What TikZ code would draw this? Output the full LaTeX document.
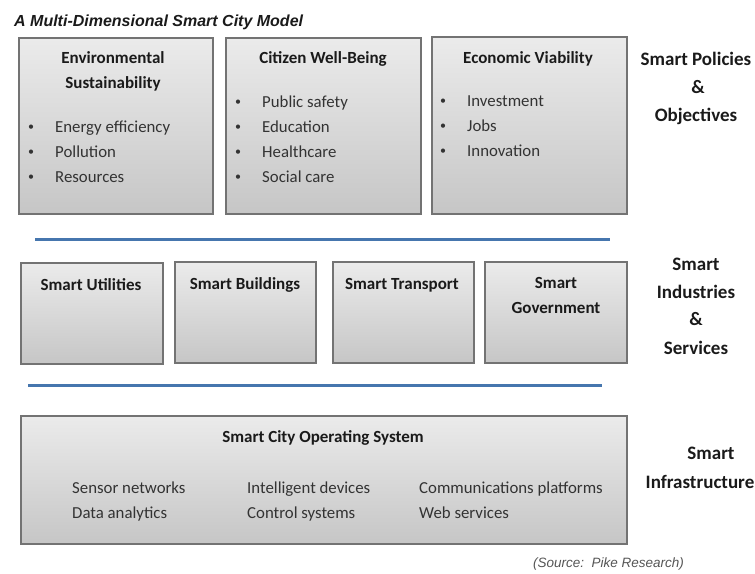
\documentclass[tikz,border=0pt]{standalone}
\usepackage{fontspec}
\setmainfont{Carlito}
\newfontfamily\arialfont{Liberation Sans}
\definecolor{boxborder}{HTML}{737373}
\definecolor{boxtop}{HTML}{EBEBEB}
\definecolor{boxbot}{HTML}{C6C6C6}
\definecolor{bodytext}{HTML}{333333}
\definecolor{headtext}{HTML}{1A1A1A}
\definecolor{rulecol}{HTML}{4676AE}
\definecolor{srccol}{HTML}{555555}
\begin{document}
\begin{tikzpicture}[x=1bp,y=-1bp,
  box/.style={draw=boxborder, line width=1.6bp, top color=boxtop, bottom color=boxbot,
    anchor=north west, inner sep=0pt},
  head/.style={anchor=base, inner sep=0pt, text=headtext, font=\fontsize{17bp}{20bp}\selectfont\bfseries},
  side/.style={anchor=base, inner sep=0pt, text=headtext, font=\fontsize{19bp}{22bp}\selectfont\bfseries},
  item/.style={anchor=base west, inner sep=0pt, text=bodytext, font=\fontsize{16.8bp}{20bp}\selectfont},
  dot/.style={anchor=base, inner sep=0pt, text=bodytext, font=\fontsize{12bp}{20bp}\selectfont},
  sep/.style={draw=rulecol, line width=3bp}]
\useasboundingbox (0,0) rectangle (755,574);
% title
\node[anchor=base west, inner sep=0pt, text=headtext, font=\arialfont\fontsize{16bp}{18bp}\selectfont\bfseries\itshape] (title) at (14,27) {A Multi-Dimensional Smart City Model};
% top row boxes
\node[box, minimum width=194bp, minimum height=176bp] (env) at (18,37) {};
\node[box, minimum width=195bp, minimum height=176bp] (cit) at (225,37) {};
\node[box, minimum width=195bp, minimum height=177bp] (eco) at (431,36) {};
% env
\node[head] (envt1) at (113,64) {Environmental};
\node[head] (envt2) at (113,89) {Sustainability};
\node[dot] (envb1) at (31,131) {\textbullet};
\node[dot] (envb2) at (31,156) {\textbullet};
\node[dot] (envb3) at (31,181) {\textbullet};
\node[item] (envi1) at (55,133) {Energy efficiency};
\node[item] (envi2) at (55,158) {Pollution};
\node[item] (envi3) at (55,183) {Resources};
% citizen
\node[head] (citt) at (323,64) {Citizen Well-Being};
\node[dot] (citb1) at (238,106) {\textbullet};
\node[dot] (citb2) at (238,131) {\textbullet};
\node[dot] (citb3) at (238,156) {\textbullet};
\node[dot] (citb4) at (238,181) {\textbullet};
\node[item] (citi1) at (262,108) {Public safety};
\node[item] (citi2) at (262,133) {Education};
\node[item] (citi3) at (262,158) {Healthcare};
\node[item] (citi4) at (262,183) {Social care};
% economic
\node[head] (ecot) at (528,64) {Economic Viability};
\node[dot] (ecob1) at (443,105) {\textbullet};
\node[dot] (ecob2) at (443,130) {\textbullet};
\node[dot] (ecob3) at (443,155) {\textbullet};
\node[item] (ecoi1) at (467,107) {Investment};
\node[item] (ecoi2) at (467,132) {Jobs};
\node[item] (ecoi3) at (467,157) {Innovation};
% side label 1
\node[side] (pol1) at (696,66) {Smart Policies};
\node[side] (pol2) at (698,94) {\&};
\node[side] (pol3) at (696,122) {Objectives};
% separator 1
\coordinate (s1a) at (35,239);
\coordinate (s1b) at (610,239);
\draw[sep] (s1a) -- (s1b);
% middle row
\node[box, minimum width=142bp, minimum height=101bp] (util) at (20,262) {};
\node[box, minimum width=141bp, minimum height=101bp] (bldg) at (174,261) {};
\node[box, minimum width=141bp, minimum height=101bp] (trans) at (332,261) {};
\node[box, minimum width=142bp, minimum height=101bp] (gov) at (484,261) {};
\node[head] (utilt) at (91,290) {Smart Utilities};
\node[head] (bldgt) at (245,289) {Smart Buildings};
\node[head] (transt) at (402,289) {Smart Transport};
\node[head] (govt1) at (556,288) {Smart};
\node[head] (govt2) at (556,313) {Government};
\node[side] (ind1) at (696,270) {Smart};
\node[side] (ind2) at (696,298) {Industries};
\node[side] (ind3) at (696,325) {\&};
\node[side] (ind4) at (696,354) {Services};
% separator 2
\coordinate (s2a) at (28,385);
\coordinate (s2b) at (602,385);
\draw[sep] (s2a) -- (s2b);
% bottom box
\node[box, minimum width=606bp, minimum height=128bp] (os) at (20,415) {};
\node[head] (ost) at (323,442) {Smart City Operating System};
\node[item] (os1) at (72,493) {Sensor networks};
\node[item] (os2) at (72,518) {Data analytics};
\node[item] (os3) at (247,493) {Intelligent devices};
\node[item] (os4) at (247,518) {Control systems};
\node[item] (os5) at (419,493) {Communications platforms};
\node[item] (os6) at (419,518) {Web services};
\node[side] (inf1) at (711,459) {Smart};
\node[side] (inf2) at (700,488) {Infrastructure};
% source
\node[anchor=base west, inner sep=0pt, text=srccol, font=\arialfont\fontsize{13.5bp}{16bp}\selectfont\itshape] (src) at (533,567) {(Source:\ \ Pike Research)};
\end{tikzpicture}
\end{document}
